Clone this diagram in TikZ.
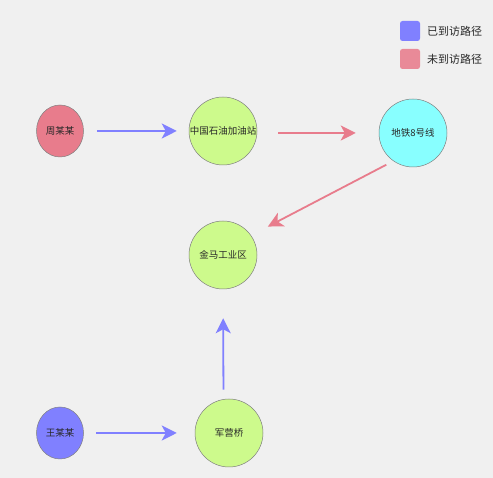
\documentclass[tikz,border=0pt]{standalone}
\usepackage{fontspec}
\newfontfamily\cjk{Noto Sans CJK SC}
\usetikzlibrary{shapes.geometric,arrows.meta}
\definecolor{visited}{RGB}{128,128,255}
\definecolor{unvisited}{RGB}{232,124,140}
\definecolor{legendpink}{RGB}{233,138,152}
\definecolor{stopgreen}{RGB}{205,250,140}
\definecolor{stopcyan}{RGB}{136,255,255}
\definecolor{bg}{RGB}{240,240,240}
\definecolor{txt}{RGB}{40,40,40}
\begin{document}
\begin{tikzpicture}[x=1pt,y=1pt,
  person/.style={ellipse, draw=gray, line width=0.5pt, minimum width=47pt, minimum height=52pt, inner sep=0pt, font=\cjk\fontsize{9.5}{11}\selectfont, text=txt},
  stop/.style={circle, draw=gray, line width=0.5pt, minimum size=68pt, inner sep=0pt, font=\cjk\fontsize{9.5}{11}\selectfont, text=txt},
  route/.style={line width=1.8pt, -{Stealth[length=15pt,width=15pt,inset=4pt]}},
  legendbox/.style={rounded corners=2.5pt, minimum size=20pt, inner sep=0pt},
  legendtext/.style={anchor=west, inner sep=0pt, font=\cjk\fontsize{11}{13}\selectfont, text=txt}]
\fill[bg] (0,0) rectangle (493,478);
\useasboundingbox (0,0) rectangle (493,478);
% legend
\node[legendbox, fill=visited] (lgv) at (410,447){};
\node[legendtext] (lgvt) at (427,447){已到访路径};
\node[legendbox, fill=legendpink] (lgu) at (410,419){};
\node[legendtext] (lgut) at (427,419){未到访路径};
% nodes
\node[person, fill=unvisited] (zmm) at (60,347){周某某};
\node[stop, fill=stopgreen] (zsy) at (223,347){中国石油加油站};
\node[stop, fill=stopcyan] (dt) at (413,345){地铁8号线};
\node[stop, fill=stopgreen] (jm) at (223,223){金马工业区};
\node[person, fill=visited] (wmm) at (60,45){王某某};
\node[stop, fill=stopgreen] (jyq) at (229,45){军营桥};
% routes
\draw[route, visited, shorten <=13pt, shorten >=12pt](zmm) -- (zsy);
\draw[route, unvisited, shorten <=21pt, shorten >=23pt]([yshift=-2pt]zsy.east) -- (dt.west);
\draw[route, unvisited, shorten <=8pt, shorten >=19pt](dt.235) -- (jm.35);
\draw[route, visited, shorten <=12.5pt, shorten >=18pt](wmm) -- (jyq);
\draw[route, visited, shorten <=9pt, shorten >=29pt]([xshift=-5.5pt]jyq.north) -- (jm.south);
\end{tikzpicture}
\end{document}
